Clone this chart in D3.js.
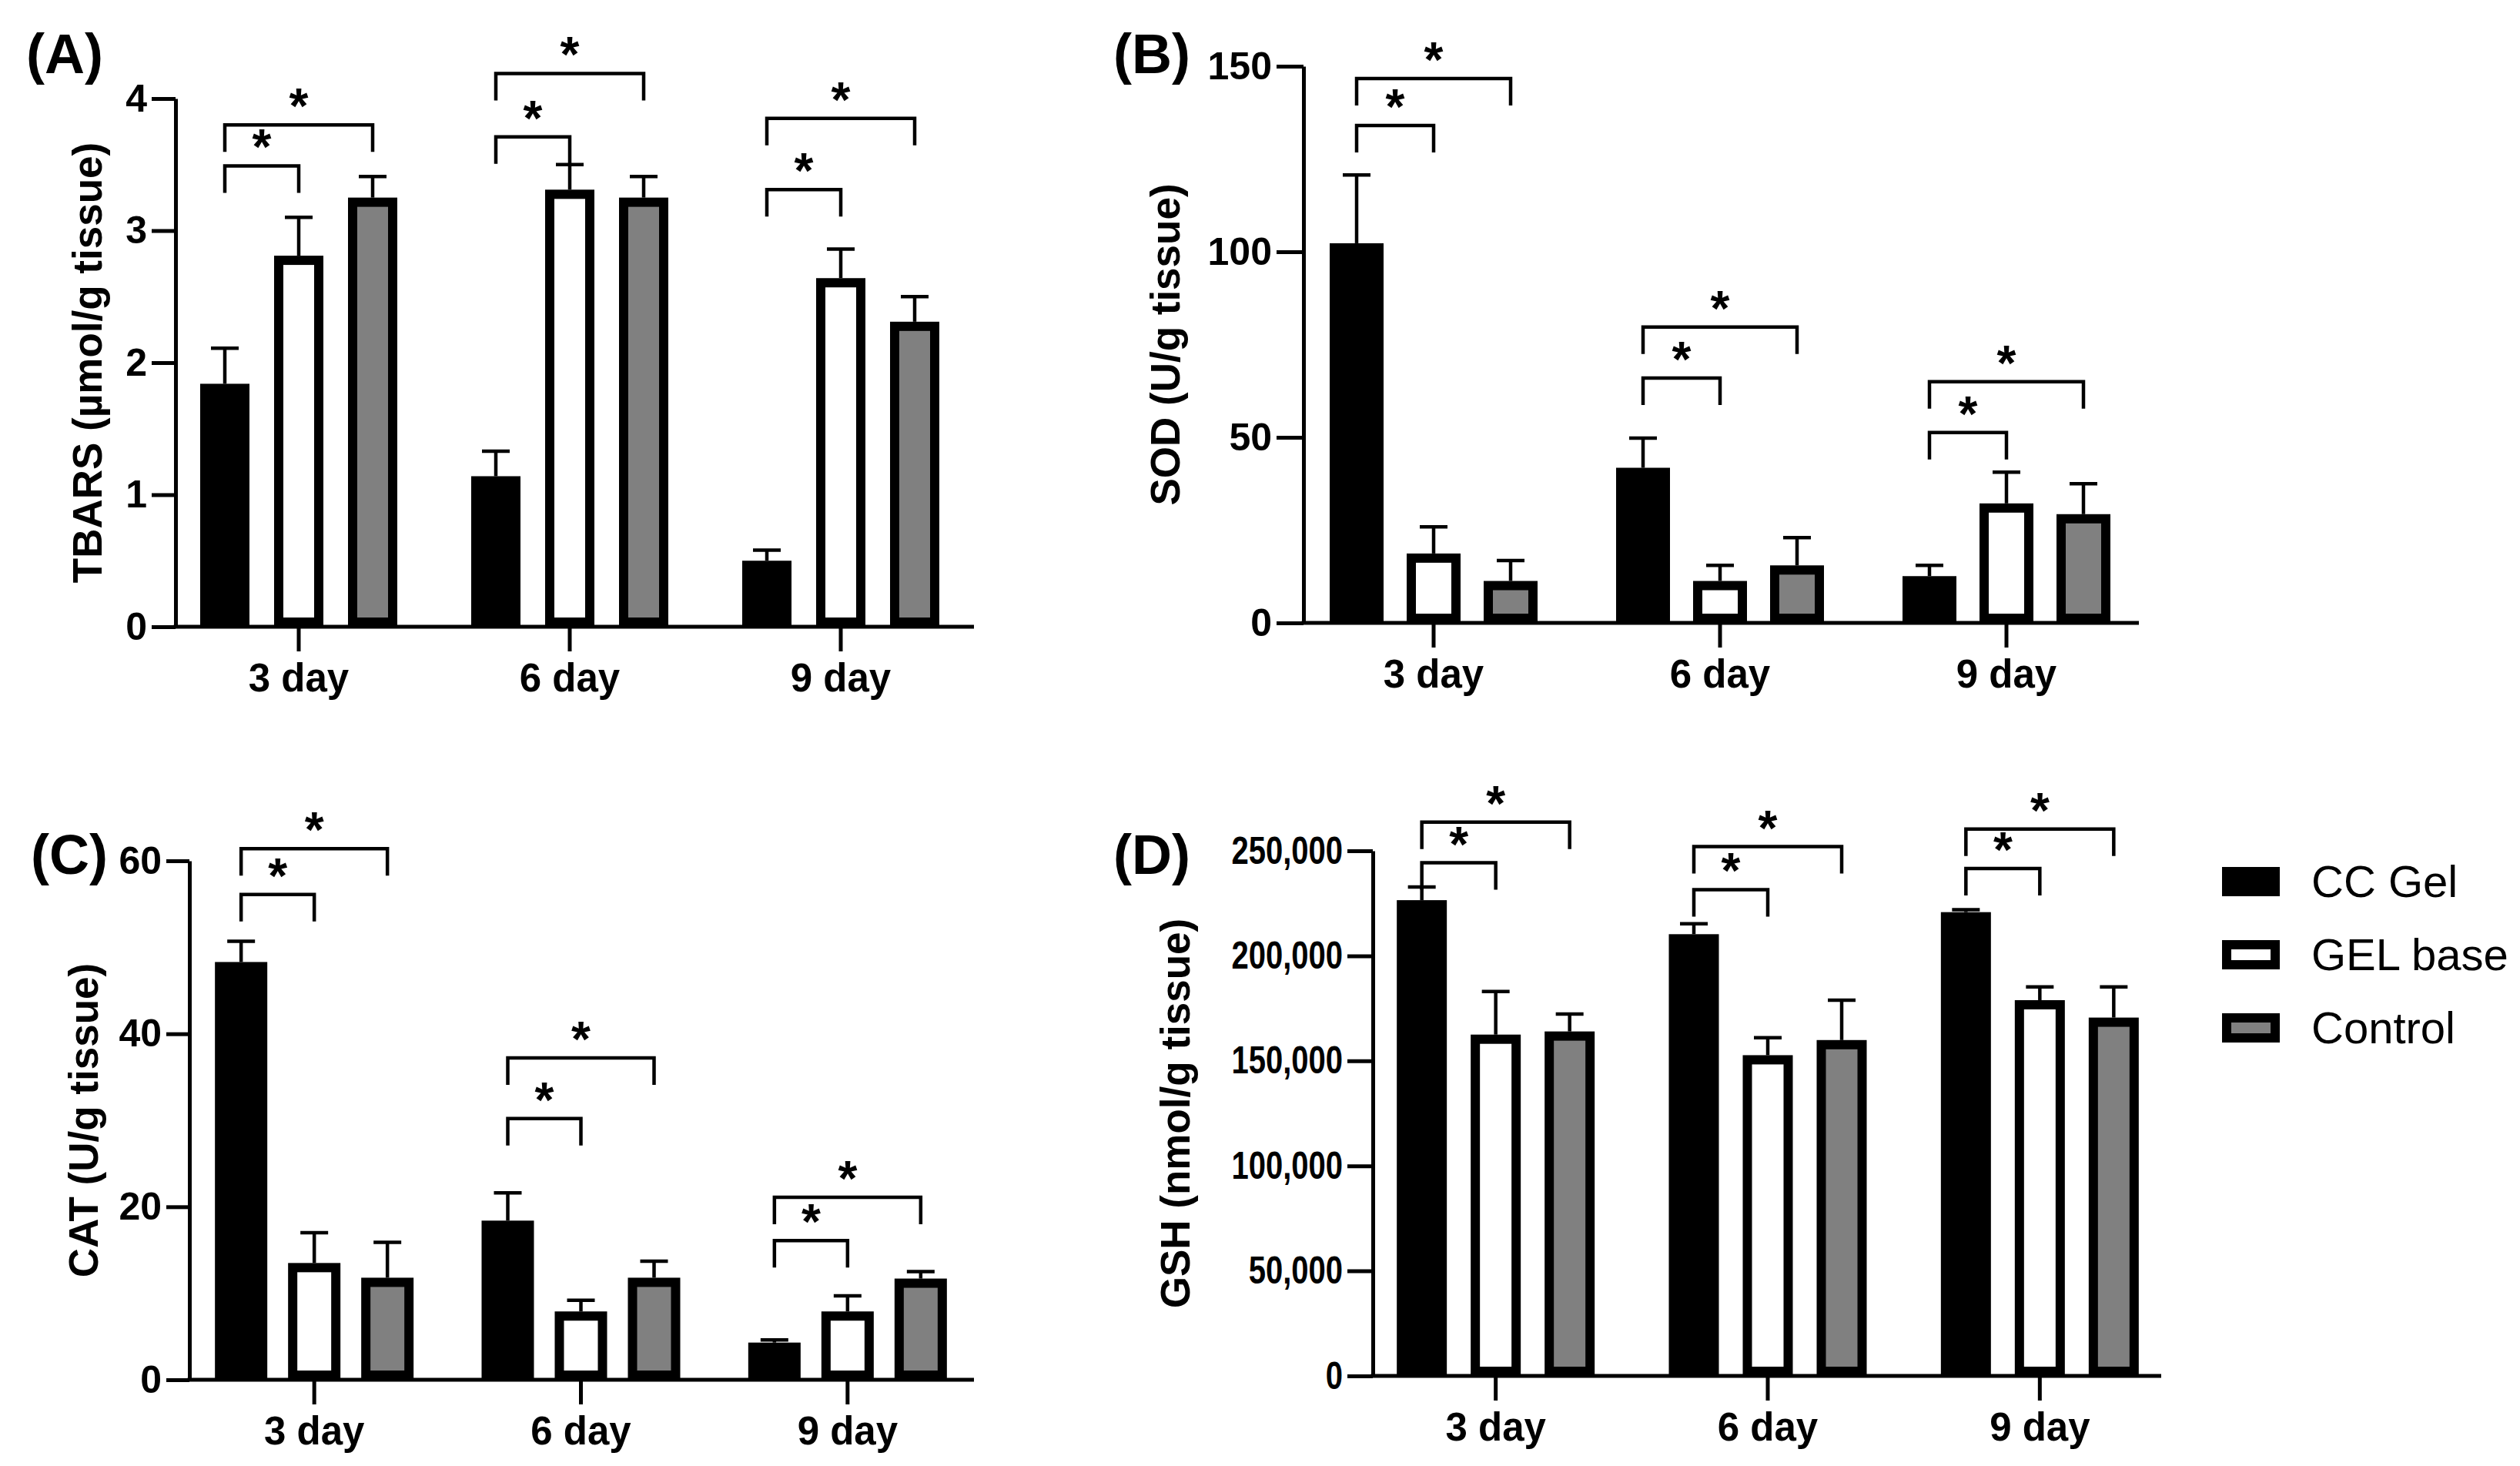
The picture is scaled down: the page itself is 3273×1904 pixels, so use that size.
<!DOCTYPE html>
<html>
<head>
<meta charset="utf-8">
<script src="https://cdn.jsdelivr.net/npm/d3@7"></script>
<style>
  body { margin: 0; background: #fff; }
  text { font-family: "Liberation Sans", Arial, sans-serif; fill: #000; }
</style>
</head>
<body>
<div id="chart"></div>
<script>
// categories and groups
const days = ["3 day", "6 day", "9 day"];
const groups = ["CC Gel", "GEL base", "Control"];
const groupFill = ["#000000", "#ffffff", "#808080"];

// (A) TBARS, rows = groups, cols = days
const tbarsMean = [[1.84, 1.14, 0.50], [2.81, 3.31, 2.64], [3.25, 3.25, 2.31]];
const tbarsErr  = [[0.27, 0.19, 0.08], [0.29, 0.19, 0.22], [0.16, 0.16, 0.19]];
const tbarsTicks = [0, 1, 2, 3, 4];
const tbarsSig = [[3.49, 3.80], [3.71, 4.19], [3.31, 3.85]];   // [vs GEL base, vs Control] per day

// (B) SOD
const sodMean = [[102.3, 41.8, 12.6], [18.7, 11.3, 32.2], [11.3, 15.5, 29.3]];
const sodErr  = [[18.4, 8.0, 2.9], [7.2, 4.2, 8.4], [5.5, 7.5, 8.2]];
const sodTicks = [0, 50, 100, 150];
const sodSig = [[134.0, 146.7], [66.0, 79.7], [51.3, 65.0]];

// (C) CAT
const catMean = [[48.3, 18.4, 4.3], [13.5, 7.9, 7.9], [11.8, 11.8, 11.7]];
const catErr  = [[2.4, 3.2, 0.3], [3.5, 1.3, 1.8], [4.1, 1.9, 0.8]];
const catTicks = [0, 20, 40, 60];
const catSig = [[56.1, 61.4], [30.2, 37.2], [16.1, 21.1]];

// (D) GSH
const gshMean = [[226500, 210300, 220800], [162500, 152700, 178900], [164000, 159900, 170600]];
const gshErr  = [[6300, 5000, 1200], [20500, 8300, 6300], [8300, 19000, 14600]];
const gshTicks = [0, 50000, 100000, 150000, 200000, 250000];
const gshSig = [[244300, 263700], [231500, 252000], [241600, 260400]];

const W = 3273, H = 1904;
const svg = d3.select("#chart").append("svg")
    .attr("width", W)
    .attr("height", H)
    .attr("viewBox", `0 0 ${W} ${H}`);
svg.append("rect").attr("width", W).attr("height", H).attr("fill", "#fff");

const sw = 12;      // bar outline
const lw = 4.5;     // thin lines

function drawPanel(p) {
    const g = svg.append("g");
    const y = d3.scaleLinear().domain([0, d3.max(p.ticks)]).range([p.y0, p.yTop]);
    const x = d3.scaleBand().domain(days).range(p.xRange);
    const pad = 1 - p.barW / p.step;
    const xs = d3.scaleBand().domain(groups)
        .range([-1.5 * p.step, 1.5 * p.step])
        .paddingInner(pad).paddingOuter(pad / 2);
    const cx = (di, gi) => x(days[di]) + x.bandwidth() / 2 + xs(groups[gi]) + xs.bandwidth() / 2;

    // bars + error bars
    const cells = [];
    groups.forEach((gr, gi) => days.forEach((d, di) => cells.push({ gi, di, v: p.mean[gi][di], e: p.err[gi][di] })));

    g.selectAll("line.err").data(cells).enter().append("line")
        .attr("class", "err")
        .attr("x1", d => cx(d.di, d.gi)).attr("x2", d => cx(d.di, d.gi))
        .attr("y1", d => y(d.v)).attr("y2", d => y(d.v + d.e))
        .attr("stroke", "#000").attr("stroke-width", lw);
    g.selectAll("line.cap").data(cells).enter().append("line")
        .attr("class", "cap")
        .attr("x1", d => cx(d.di, d.gi) - 18).attr("x2", d => cx(d.di, d.gi) + 18)
        .attr("y1", d => y(d.v + d.e)).attr("y2", d => y(d.v + d.e))
        .attr("stroke", "#000").attr("stroke-width", lw);

    g.selectAll("rect.bar").data(cells).enter().append("rect")
        .attr("class", "bar")
        .attr("x", d => cx(d.di, d.gi) - p.barW / 2 + sw / 2)
        .attr("width", p.barW - sw)
        .attr("y", d => y(d.v) + sw / 2)
        .attr("height", d => Math.max(0, p.y0 - y(d.v) - sw))
        .attr("fill", d => groupFill[d.gi])
        .attr("stroke", "#000")
        .attr("stroke-width", sw);

    // significance brackets
    const brackets = [];
    p.sig.forEach((lv, di) => {
        brackets.push({ di, to: 1, level: lv[0] });
        brackets.push({ di, to: 2, level: lv[1] });
    });
    g.selectAll("path.brk").data(brackets).enter().append("path")
        .attr("class", "brk")
        .attr("d", d => {
            const x1 = cx(d.di, 0), x2 = cx(d.di, d.to), yl = y(d.level);
            return `M${x1},${yl + 35}V${yl}H${x2}V${yl + 35}`;
        })
        .attr("fill", "none").attr("stroke", "#000").attr("stroke-width", lw);
    g.selectAll("text.star").data(brackets).enter().append("text")
        .attr("class", "star")
        .attr("x", d => (cx(d.di, 0) + cx(d.di, d.to)) / 2)
        .attr("y", d => y(d.level) - 2)
        .attr("text-anchor", "middle")
        .attr("font-size", 64).attr("font-weight", "bold")
        .text("*");

    // y axis
    const yAxis = g.append("g")
        .attr("transform", `translate(${p.yAxisX},0)`)
        .call(d3.axisLeft(y).tickValues(p.ticks).tickSize(p.tickLen).tickSizeOuter(0)
            .tickPadding(6).tickFormat(p.fmt));
    yAxis.select(".domain").attr("stroke", "#000").attr("stroke-width", 5);
    yAxis.selectAll(".tick line").attr("stroke", "#000").attr("stroke-width", 5);
    yAxis.selectAll(".tick text")
        .attr("font-size", 50).attr("font-weight", "bold")
        .attr("font-family", "'Liberation Sans', Arial, sans-serif")
        .attr("fill", "#000")
        .attr("x", -(p.tickLen + 6) / p.sx)
        .attr("transform", `scale(${p.sx},1)`);

    // x axis
    g.append("line")
        .attr("x1", p.yAxisX - 2.5).attr("x2", p.xEnd)
        .attr("y1", p.y0).attr("y2", p.y0)
        .attr("stroke", "#000").attr("stroke-width", 5);
    const xAxis = g.append("g")
        .attr("transform", `translate(0,${p.y0})`)
        .call(d3.axisBottom(x).tickSize(32).tickSizeOuter(0));
    xAxis.select(".domain").remove();
    xAxis.selectAll(".tick line").attr("stroke", "#000").attr("stroke-width", 5);
    xAxis.selectAll(".tick text")
        .attr("y", 84).attr("dy", null)
        .attr("font-size", 51).attr("font-weight", "bold")
        .attr("font-family", "'Liberation Sans', Arial, sans-serif")
        .attr("fill", "#000");

    // y title
    g.append("text")
        .attr("transform", `translate(${p.labelX},${(p.y0 + p.yTop) / 2}) rotate(-90)`)
        .attr("dy", "0.35em")
        .attr("text-anchor", "middle")
        .attr("font-size", 53).attr("font-weight", "bold")
        .text(p.title);

    // panel tag
    g.append("text")
        .attr("x", p.tagX).attr("y", p.tagY)
        .attr("font-family", "Lato, 'Open Sans', sans-serif")
        .attr("font-size", 72).attr("font-weight", "bold")
        .text(p.tag);
}

drawPanel({
    tag: "(A)", tagX: 34, tagY: 95,
    title: "TBARS (\u00b5mol/g tissue)", labelX: 113,
    mean: tbarsMean, err: tbarsErr, ticks: tbarsTicks, sig: tbarsSig, fmt: d3.format("d"), sx: 1,
    yAxisX: 228, y0: 814, yTop: 128, xRange: [212, 1268], xEnd: 1265,
    step: 96, barW: 64, tickLen: 31
});
drawPanel({
    tag: "(B)", tagX: 1446, tagY: 95,
    title: "SOD (U/g tissue)", labelX: 1513,
    mean: sodMean, err: sodErr, ticks: sodTicks, sig: sodSig, fmt: d3.format("d"), sx: 1,
    yAxisX: 1693, y0: 809, yTop: 86, xRange: [1676, 2792], xEnd: 2778,
    step: 100, barW: 70, tickLen: 35
});
drawPanel({
    tag: "(C)", tagX: 40, tagY: 1135,
    title: "CAT (U/g tissue)", labelX: 108,
    mean: catMean, err: catErr, ticks: catTicks, sig: catSig, fmt: d3.format("d"), sx: 1,
    yAxisX: 246, y0: 1792, yTop: 1118, xRange: [235, 1274], xEnd: 1265,
    step: 95, barW: 68, tickLen: 30
});
drawPanel({
    tag: "(D)", tagX: 1446, tagY: 1135,
    title: "GSH (nmol/g tissue)", labelX: 1526,
    mean: gshMean, err: gshErr, ticks: gshTicks, sig: gshSig, fmt: d3.format(","), sx: 0.8,
    yAxisX: 1783, y0: 1787, yTop: 1105, xRange: [1766, 2826], xEnd: 2807,
    step: 96, barW: 65, tickLen: 33
});

// legend
const legend = svg.append("g").attr("transform", "translate(2886,1145)");
const items = legend.selectAll("g").data(groups).enter().append("g")
    .attr("transform", (d, i) => `translate(0,${i * 95})`);
items.append("rect")
    .attr("x", sw / 2).attr("y", -19 + sw / 2)
    .attr("width", 75 - sw).attr("height", 38 - sw)
    .attr("fill", (d, i) => groupFill[i])
    .attr("stroke", "#000").attr("stroke-width", sw);
items.append("text")
    .attr("x", 116).attr("y", 20)
    .attr("font-size", 58)
    .attr("fill", "#111")
    .text(d => d);
</script>
</body>
</html>
